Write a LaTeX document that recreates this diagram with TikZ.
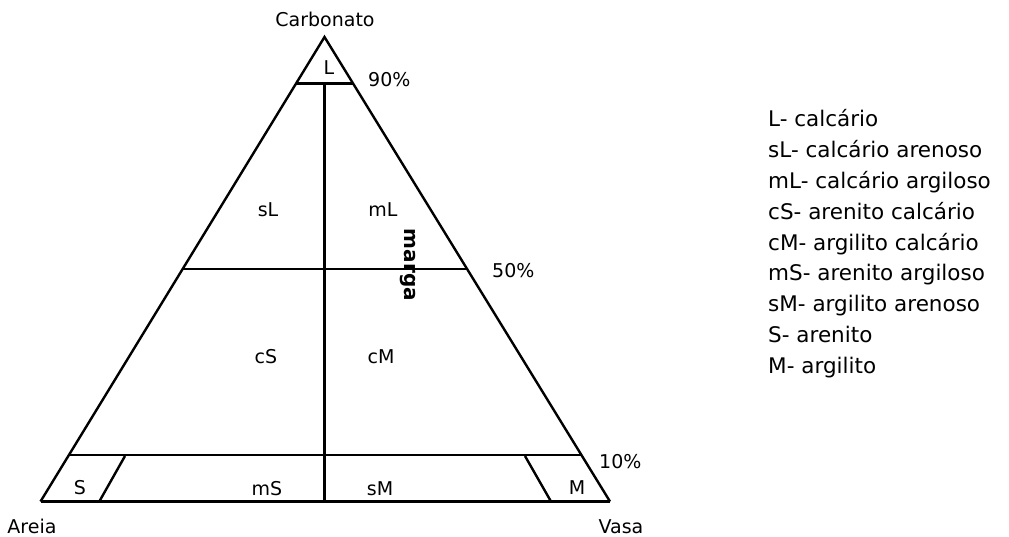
\documentclass[tikz,border=0pt]{standalone}
\usepackage{fontspec}
\setmainfont{DejaVu Sans}
\usetikzlibrary{calc}
\begin{document}
\begin{tikzpicture}[x=1pt,y=-1pt,
  edge/.style={line width=2.4pt},
  baseedge/.style={line width=3.8pt},
  lab/.style={font=\fontsize{19}{22}\selectfont, inner sep=0pt, anchor=base},
  leg/.style={font=\fontsize{21.5}{25}\selectfont, inner sep=0pt, anchor=base west}]
\useasboundingbox (0,0) rectangle (1009,537);
% corners
\coordinate (A) at (324.5,37);
\coordinate (B) at (40.5,501.5);
\coordinate (C) at (610,501.5);
% points on the sides
\coordinate (L90) at ($(B)!0.9!(A)$);
\coordinate (R90) at ($(C)!0.9!(A)$);
\coordinate (L50) at ($(B)!0.5!(A)$);
\coordinate (R50) at ($(C)!0.5!(A)$);
\coordinate (L10) at ($(B)!0.1!(A)$);
\coordinate (R10) at ($(C)!0.1!(A)$);
\coordinate (M90) at (324.5,0 |- L90);
\coordinate (Mb) at (324.5,501.5);
\coordinate (St) at (125,456);
\coordinate (Sb) at (99.3,501.5);
\coordinate (Mt) at (525,456);
\coordinate (Mbb) at (551,501.5);
% triangle
\draw[edge,line join=miter] (B) -- (A) -- (C);
\draw[baseedge] (B) -- (C);
\draw[edge] (L90) -- (R90);
\draw[edge] (L50) -- (R50);
\draw[edge] (L10) -- (R10);
\draw[edge] (M90) -- (Mb);
\draw[edge] (St) -- (Sb);
\draw[edge] (Mt) -- (Mbb);
% labels
\node[lab] (carb) at (325,27) {Carbonato};
\node[lab] (areia) at (32,533) {Areia};
\node[lab] (vasa) at (621,533) {Vasa};
\node[lab] (l) at (329,75) {L};
\node[lab, anchor=base west] (p90) at (368,87) {90\%};
\node[lab, anchor=base west] (p50) at (492,278) {50\%};
\node[lab, anchor=base west] (p10) at (599,468) {10\%};
\node[lab] (sl) at (268,217) {sL};
\node[lab] (ml) at (383,217) {mL};
\node[lab] (cs) at (266,363) {cS};
\node[lab] (cm) at (381,363) {cM};
\node[lab] (s) at (80,494) {S};
\node[lab] (ms) at (267,495) {mS};
\node[lab] (sm) at (380,495) {sM};
\node[lab] (m) at (577,494) {M};
\node[font=\fontsize{20}{23}\selectfont\bfseries, inner sep=0pt, rotate=-90] (marga) at (408,265) {marga};
% legend
\node[leg] (g1) at (768,127) {L- calcário};
\node[leg] (g2) at (768,157.8) {sL- calcário arenoso};
\node[leg] (g3) at (768,188.6) {mL- calcário argiloso};
\node[leg] (g4) at (768,219.4) {cS- arenito calcário};
\node[leg] (g5) at (768,250.2) {cM- argilito calcário};
\node[leg] (g6) at (768,281) {mS- arenito argiloso};
\node[leg] (g7) at (768,311.8) {sM- argilito arenoso};
\node[leg] (g8) at (768,342.6) {S- arenito};
\node[leg] (g9) at (768,373.4) {M- argilito};
\end{tikzpicture}
\end{document}
